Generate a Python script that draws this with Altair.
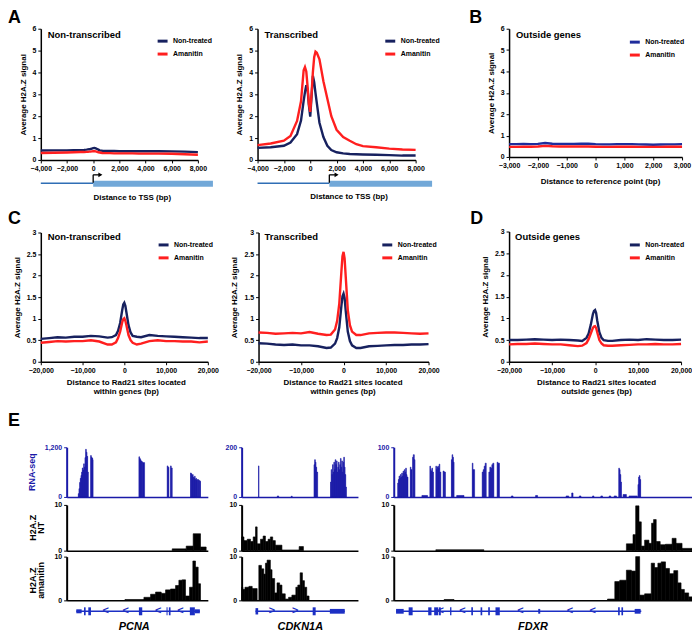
import altair as alt
import pandas as pd

W, H = 688, 626
FONT = "Liberation Sans"
NAVY = "#17215f"
NAVY_B = "#1f2c9c"
RED = "#ff1f1f"
TRACK_BLUE = "#1a1aa8"
GENE_BLUE = "#1c2fc4"
THIN_BLUE = "#2f6eb5"
THICK_BLUE = "#72a8d8"
CONDS = ["Non-treated", "Amanitin"]

# ---------------- Panel A (distance to TSS) ----------------
A_X = [-4000, -3000, -2000, -1500, -1000, -700, -500, -400, -300, -200, -100, 0, 100, 200,
       300, 400, 500, 700, 1000, 1300, 1600, 2000, 2500, 3000, 3500, 4000, 5000, 6000, 7000, 8000]
A_NONTX_NT = [0.43, 0.44, 0.44, 0.45, 0.45, 0.46, 0.47, 0.48, 0.49, 0.50, 0.52, 0.54, 0.55, 0.53,
              0.50, 0.47, 0.44, 0.42, 0.41, 0.41, 0.41, 0.40, 0.40, 0.40, 0.40, 0.40, 0.40, 0.39, 0.38, 0.36]
A_NONTX_AM = [0.32, 0.33, 0.34, 0.35, 0.36, 0.36, 0.37, 0.37, 0.38, 0.38, 0.39, 0.40, 0.40, 0.39,
              0.37, 0.35, 0.34, 0.32, 0.31, 0.31, 0.30, 0.30, 0.30, 0.30, 0.29, 0.29, 0.29, 0.28, 0.26, 0.24]
A_TX_NT = [0.55, 0.58, 0.65, 0.80, 1.18, 1.80, 2.70, 3.10, 3.42, 3.20, 2.50, 1.98, 2.90, 3.85,
           3.55, 3.05, 2.60, 1.70, 1.05, 0.65, 0.45, 0.35, 0.30, 0.27, 0.26, 0.25, 0.24, 0.22, 0.20, 0.20]
A_TX_AM = [0.68, 0.75, 0.88, 1.10, 1.78, 2.68, 4.10, 4.25, 4.05, 3.35, 2.55, 2.20, 3.00, 4.00,
           4.70, 4.95, 4.90, 4.60, 3.60, 2.80, 2.00, 1.38, 1.05, 0.88, 0.72, 0.63, 0.58, 0.52, 0.48, 0.46]
A_XTICKS = [-4000, -2000, 0, 2000, 4000, 6000, 8000]
A_YTICKS = [0, 1, 2, 3, 4, 5, 6]

# ---------------- Panel B (outside genes) ----------------
B_X = [-3000, -2750, -2500, -2250, -2000, -1750, -1500, -1250, -1000, -750, -500, -250, 0,
       250, 500, 750, 1000, 1250, 1500, 1750, 2000, 2250, 2500, 2750, 3000]
B_NT = [0.60, 0.60, 0.61, 0.60, 0.61, 0.65, 0.62, 0.61, 0.61, 0.61, 0.62, 0.62, 0.60,
        0.59, 0.59, 0.60, 0.60, 0.60, 0.59, 0.58, 0.57, 0.58, 0.59, 0.59, 0.60]
B_AM = [0.47, 0.47, 0.48, 0.48, 0.49, 0.52, 0.50, 0.49, 0.49, 0.49, 0.49, 0.49, 0.48,
        0.47, 0.47, 0.48, 0.48, 0.48, 0.47, 0.47, 0.47, 0.47, 0.48, 0.48, 0.48]
B_XTICKS = [-3000, -2000, -1000, 0, 1000, 2000, 3000]

# ---------------- Panels C / D (Rad21 sites) ----------------
C_X = [-20000, -18000, -16000, -14000, -12000, -10000, -8000, -6000, -4000, -3000, -2000, -1500,
       -1000, -500, -250, 0, 250, 500, 1000, 1500, 2000, 3000, 4000, 6000, 8000, 10000, 12000,
       14000, 16000, 18000, 20000]
C_NONTX_NT = [0.53, 0.55, 0.57, 0.56, 0.58, 0.58, 0.60, 0.59, 0.56, 0.57, 0.62, 0.72, 0.90, 1.20,
              1.33, 1.37, 1.30, 1.15, 0.85, 0.68, 0.60, 0.58, 0.57, 0.62, 0.60, 0.59, 0.58, 0.57,
              0.56, 0.55, 0.55]
C_NONTX_AM = [0.44, 0.46, 0.48, 0.47, 0.48, 0.48, 0.50, 0.47, 0.40, 0.40, 0.45, 0.55, 0.70, 0.92,
              0.99, 1.01, 0.95, 0.85, 0.62, 0.50, 0.44, 0.40, 0.42, 0.48, 0.50, 0.48, 0.48, 0.47,
              0.47, 0.45, 0.47]
C_TX_NT = [0.43, 0.42, 0.40, 0.39, 0.40, 0.38, 0.38, 0.36, 0.32, 0.33, 0.42, 0.55, 0.80, 1.30,
           1.52, 1.58, 1.48, 1.20, 0.70, 0.48, 0.38, 0.32, 0.32, 0.36, 0.37, 0.38, 0.39, 0.39,
           0.40, 0.40, 0.41]
C_TX_AM = [0.68, 0.67, 0.65, 0.66, 0.67, 0.66, 0.69, 0.65, 0.62, 0.63, 0.75, 0.95, 1.35, 2.10,
           2.45, 2.55, 2.40, 2.00, 1.20, 0.85, 0.70, 0.62, 0.62, 0.66, 0.67, 0.68, 0.68, 0.67,
           0.66, 0.65, 0.66]
D_NT = [0.50, 0.50, 0.51, 0.52, 0.51, 0.50, 0.51, 0.50, 0.49, 0.48, 0.55, 0.65, 0.85, 1.10,
        1.17, 1.19, 1.12, 0.95, 0.68, 0.55, 0.50, 0.48, 0.48, 0.50, 0.51, 0.50, 0.52, 0.51,
        0.50, 0.50, 0.51]
D_AM = [0.40, 0.41, 0.41, 0.42, 0.41, 0.40, 0.40, 0.38, 0.36, 0.37, 0.43, 0.52, 0.65, 0.78,
        0.81, 0.82, 0.78, 0.68, 0.50, 0.42, 0.38, 0.37, 0.37, 0.38, 0.39, 0.40, 0.40, 0.41,
        0.40, 0.40, 0.41]
C_XTICKS = [-20000, -10000, 0, 10000, 20000]
C_YTICKS = [0, 0.5, 1, 1.5, 2, 2.5, 3]

# ---------------- Panel E (genome tracks: start, end, value) ----------------
PCNA_RNA = [(35, 37, 80), (37, 39, 200), (39, 41, 350), (41, 43, 450), (43, 45, 520), (45, 47, 600),
            (47, 49, 700), (49, 51, 650), (51, 53, 800), (53, 55, 720), (55, 57, 950), (57, 59, 1150),
            (59, 61, 1080), (61, 63, 980), (63, 65, 600), (72, 74, 1000), (74, 76, 960), (76, 78, 940),
            (78, 79, 900), (217, 219, 970), (219, 221, 930), (221, 223, 900), (223, 225, 870),
            (225, 228, 850), (228, 234, 830), (302, 304, 750), (304, 307, 720), (312, 314, 750),
            (314, 317, 700), (372, 374, 580), (374, 376, 560), (376, 378, 520), (378, 380, 540),
            (380, 382, 480), (382, 384, 450), (384, 386, 500), (386, 388, 420), (388, 390, 450),
            (390, 392, 400), (392, 396, 420), (396, 400, 400), (400, 402, 380)]
PCNA_NT = [(317, 359, 0.4), (359, 380, 1.0), (380, 402, 3.7), (402, 419, 0.8)]
PCNA_AM = [(175, 232, 0.2), (232, 252, 0.7), (252, 267, 1.4), (267, 284, 1.9), (284, 297, 1.6),
           (297, 312, 2.4), (312, 327, 2.6), (327, 337, 3.4), (337, 347, 4.6), (347, 357, 4.7),
           (357, 369, 1.0), (369, 379, 3.0), (379, 387, 9.0), (387, 395, 7.6), (395, 402, 3.8)]
CDKN1A_RNA = [(51, 52.5, 125), (108, 112, 4), (150, 153, 3), (219, 221, 130), (221, 223, 150),
              (223, 225, 140), (225, 227, 120), (227, 230, 100), (269, 271, 60), (271, 273, 110),
              (273, 275, 90), (275, 277, 130), (277, 279, 100), (279, 281, 140), (281, 283, 110),
              (283, 285, 150), (285, 287, 130), (287, 289, 145), (289, 291, 100), (291, 293, 120),
              (293, 295, 140), (295, 297, 110), (297, 299, 130), (299, 301, 155), (301, 303, 120),
              (303, 305, 145), (305, 307, 100), (307, 309, 140), (309, 311, 160), (311, 313, 120),
              (313, 315, 90), (315, 317, 40)]
CDKN1A_NT = [(0, 7, 3.0), (7, 17, 2.2), (17, 27, 2.5), (27, 35, 2.0), (35, 42, 3.0), (42, 47, 5.2),
             (47, 57, 1.5), (57, 65, 2.5), (65, 72, 3.2), (72, 80, 2.0), (80, 87, 2.5), (87, 94, 3.0),
             (94, 102, 2.2), (102, 122, 1.2), (122, 174, 0.15), (174, 187, 0.9)]
CDKN1A_AM = [(0, 4, 3.0), (4, 10, 2.5), (10, 22, 3.0), (22, 32, 3.2), (32, 47, 2.7), (52, 60, 8.0),
             (60, 67, 7.2), (67, 72, 6.0), (72, 77, 8.5), (77, 87, 9.2), (87, 92, 7.0), (92, 100, 5.0),
             (100, 107, 1.7), (107, 115, 4.0), (115, 122, 3.5), (122, 132, 1.5), (132, 142, 0.3),
             (142, 152, 0.7), (152, 164, 1.2), (164, 170, 3.0), (170, 177, 3.5), (177, 184, 6.3),
             (184, 190, 4.5), (190, 197, 3.0), (197, 204, 1.0)]
FDXR_RNA = [(12, 14, 28), (14, 16, 35), (16, 18, 42), (18, 20, 38), (20, 22, 45), (22, 24, 40),
            (24, 26, 48), (26, 28, 42), (28, 30, 52), (30, 32, 47), (32, 34, 55), (34, 36, 50),
            (36, 38, 58), (38, 40, 45), (40, 43, 40), (50, 52, 60), (52, 55, 55), (57, 59, 80),
            (59, 62, 85), (62, 64, 75), (85, 102, 3), (109, 111, 62), (111, 113, 55), (113, 115, 52),
            (115, 117, 58), (117, 120, 50), (127, 129, 62), (129, 131, 55), (131, 133, 60),
            (133, 135, 62), (135, 137, 58), (137, 139, 66), (139, 142, 50), (149, 152, 52),
            (152, 156, 50), (174, 176, 75), (176, 178, 85), (178, 180, 80), (180, 182, 70),
            (190, 212, 3), (237, 239, 68), (239, 244, 55), (267, 270, 50), (270, 273, 55),
            (273, 276, 62), (276, 279, 68), (287, 290, 50), (290, 293, 60), (293, 296, 58),
            (296, 299, 65), (299, 302, 68), (312, 314, 70), (314, 319, 68), (355, 360, 2),
            (428, 434, 3), (520, 528, 2), (537, 541, 8), (560, 565, 2), (600, 604, 2), (625, 630, 2),
            (650, 655, 2), (665, 672, 2), (679, 681, 58), (681, 683, 55), (683, 685, 45),
            (685, 687, 30), (692, 702, 5), (710, 735, 2), (737, 739, 25), (739, 741, 40),
            (741, 743, 43), (743, 745, 35)]
FDXR_NT = [(127, 272, 0.2), (702, 722, 1.5), (722, 730, 3.5), (730, 740, 9.8), (740, 747, 6.3),
           (747, 757, 1.0), (757, 770, 2.3), (770, 778, 1.6), (778, 784, 6.0), (784, 792, 6.8),
           (792, 804, 2.0), (804, 820, 1.3), (820, 840, 1.4), (840, 852, 2.7), (852, 870, 1.6),
           (870, 900, 0.5)]
FDXR_AM = [(152, 182, 0.2), (645, 667, 0.3), (667, 682, 4.3), (682, 702, 4.6), (702, 717, 6.9),
           (717, 730, 6.7), (730, 742, 10.0), (742, 757, 1.2), (757, 777, 1.5), (777, 787, 8.5),
           (787, 797, 7.5), (797, 807, 8.5), (807, 820, 8.8), (820, 832, 7.3), (832, 845, 6.1),
           (845, 857, 6.8), (857, 867, 4.0), (867, 877, 2.5), (877, 890, 1.7), (890, 900, 0.8)]

# gene models: intron span, exons (start, end, half-height), chevrons
PCNA_SPAN = (29, 400)
PCNA_EXONS = [(29, 45, 0.5), (52, 57, 1.0), (65, 73, 1.0), (217, 227, 1.0), (300, 303, 1.0),
              (307, 312, 1.0), (370, 385, 1.0), (385, 400, 0.5)]
PCNA_CHEV = [117, 177, 275, 342]
CDKN1A_SPAN = (42, 312)
CDKN1A_EXONS = [(42, 50, 0.8), (215, 224, 1.0), (267, 312, 0.6)]
CDKN1A_CHEV = [92, 162]
FDXR_SPAN = (7, 747)
FDXR_EXONS = [(7, 30, 0.6), (45, 57, 1.0), (104, 114, 1.0), (122, 134, 1.0), (136, 142, 1.0),
              (170, 174, 1.0), (234, 239, 1.0), (262, 267, 1.0), (285, 290, 1.0), (307, 320, 1.0),
              (436, 442, 0.6), (677, 682, 1.0), (687, 692, 1.0), (727, 745, 0.6)]
FDXR_CHEV = [142, 207, 382, 532, 600]

layers = []


def line_panel(xs, nt, am, xdom, xticks, ydom, yticks, xr, yr, leg, blue):
    df = pd.DataFrame({"x": list(xs) * 2, "y": list(nt) + list(am),
                       "Condition": [CONDS[0]] * len(xs) + [CONDS[1]] * len(xs)})
    return alt.Chart(df).mark_line(strokeWidth=2.4).encode(
        x=alt.X("x:Q", scale=alt.Scale(domain=xdom, range=xr, nice=False, zero=False),
                axis=alt.Axis(orient="bottom", offset=yr[0] - H, values=xticks, format=",d",
                              title=None, labelFlush=False, labelOverlap=False)),
        y=alt.Y("y:Q", scale=alt.Scale(domain=ydom, range=yr, nice=False, zero=False),
                axis=alt.Axis(orient="left", offset=-xr[0], values=yticks, format="~g",
                              title="Average H2A.Z signal", titlePadding=5,
                              labelFlush=False, labelOverlap=False)),
        color=alt.Color("Condition:N", scale=alt.Scale(domain=CONDS, range=[blue, RED]),
                        legend=alt.Legend(orient="none", legendX=leg[0], legendY=leg[1], title=None)),
    )


def txt(s, x, y, size=8, color="black", align="center", angle=0, style="normal", weight="bold"):
    return alt.Chart(pd.DataFrame({"t": [s]})).mark_text(
        font=FONT, fontSize=size, fontWeight=weight, fontStyle=style, color=color,
        align=align, baseline="middle", angle=angle).encode(
        x=alt.value(x), y=alt.value(y), text="t:N")


def tss_diagram(thin_end, thick_end, tss, xdom, xr):
    xs = alt.Scale(domain=xdom, range=xr, nice=False, zero=False)
    thin = pd.DataFrame({"s": [xdom[0]], "e": [thin_end]})
    thick = pd.DataFrame({"s": [thin_end], "e": [thick_end]})
    out = [
        alt.Chart(thin).mark_rule(color=THIN_BLUE, strokeWidth=1.5).encode(
            x=alt.X("s:Q", scale=xs, axis=None), x2="e:Q", y=alt.value(174.5)),
        alt.Chart(thick).mark_bar(color=THICK_BLUE).encode(
            x=alt.X("s:Q", scale=xs, axis=None), x2="e:Q", y=alt.value(172), y2=alt.value(178)),
    ]
    arr = pd.DataFrame({"s": [tss], "e": [tss + 550]})
    out.append(alt.Chart(arr).mark_rule(color="black", strokeWidth=1.3).encode(
        x=alt.X("s:Q", scale=xs, axis=None), y=alt.value(174), y2=alt.value(166)))
    out.append(alt.Chart(arr).mark_rule(color="black", strokeWidth=1.3).encode(
        x=alt.X("s:Q", scale=xs, axis=None), x2="e:Q", y=alt.value(166)))
    out.append(alt.Chart(arr).mark_point(shape="triangle-right", filled=True, color="black",
                                         size=22, opacity=1).encode(
        x=alt.X("e:Q", scale=xs, axis=None), y=alt.value(166)))
    return out


def track(segs, xdom, xr, ymax, yr, color, lab_color):
    df = pd.DataFrame(segs, columns=["start", "end", "value"])
    df["base"] = 0
    return alt.Chart(df).mark_bar(color=color, stroke=color, strokeWidth=0.6).encode(
        x=alt.X("start:Q", scale=alt.Scale(domain=xdom, range=xr, nice=False, zero=False),
                axis=alt.Axis(orient="bottom", offset=yr[0] - H, ticks=False, labels=False,
                              title=None, domainColor=color, domainWidth=1.5)),
        x2="end:Q",
        y=alt.Y("value:Q", scale=alt.Scale(domain=[0, ymax], range=yr, nice=False),
                axis=alt.Axis(orient="left", offset=-xr[0], values=[0, ymax], format=",d",
                              title=None, domainColor=color, tickColor=color,
                              labelColor=lab_color, domainWidth=2, labelFlush=False,
                              labelOverlap=False)),
        y2="base:Q",
    )


def gene_model(span, exons, chev, char, xdom, xr):
    xs = alt.Scale(domain=xdom, range=xr, nice=False, zero=False)
    sp = pd.DataFrame({"s": [span[0]], "e": [span[1]]})
    ex = pd.DataFrame(exons, columns=["s", "e", "h"])
    ex["lo"] = -ex["h"]
    ch = pd.DataFrame({"p": chev})
    return [
        alt.Chart(sp).mark_rule(color=GENE_BLUE, strokeWidth=1.5).encode(
            x=alt.X("s:Q", scale=xs, axis=None), x2="e:Q", y=alt.value(605)),
        alt.Chart(ex).mark_bar(color=GENE_BLUE).encode(
            x=alt.X("s:Q", scale=xs, axis=None), x2="e:Q",
            y=alt.Y("h:Q", scale=alt.Scale(domain=[-1, 1], range=[609, 601]), axis=None),
            y2="lo:Q"),
        alt.Chart(ch).mark_text(text=char, color=GENE_BLUE, font=FONT, fontSize=11,
                                fontWeight="bold", baseline="middle", align="center").encode(
            x=alt.X("p:Q", scale=xs, axis=None), y=alt.value(604.5)),
    ]


# ---- line panels ----
layers.append(line_panel(A_X, A_NONTX_NT, A_NONTX_AM, [-4000, 8000], A_XTICKS, [0, 6], A_YTICKS,
                         [33, 191], [151, 19], (149, 25), NAVY))
layers.append(line_panel(A_X, A_TX_NT, A_TX_AM, [-4000, 8000], A_XTICKS, [0, 6], A_YTICKS,
                         [251, 410], [151, 19], (378, 25), NAVY))
layers.append(line_panel(B_X, B_NT, B_AM, [-3000, 3000], B_XTICKS, [0, 6], A_YTICKS,
                         [504, 678], [148, 19], (624, 26), NAVY_B))
layers.append(line_panel(C_X, C_NONTX_NT, C_NONTX_AM, [-20000, 20000], C_XTICKS, [0, 3], C_YTICKS,
                         [33, 201], [354, 224], (150, 230), NAVY))
layers.append(line_panel(C_X, C_TX_NT, C_TX_AM, [-20000, 20000], C_XTICKS, [0, 3], C_YTICKS,
                         [252, 423], [354, 224], (375, 230), NAVY))
layers.append(line_panel(C_X, D_NT, D_AM, [-20000, 20000], C_XTICKS, [0, 3], C_YTICKS,
                         [504, 677], [354, 223], (624, 230), NAVY))

layers += tss_diagram(0, 9150, 0, [-4000, 8000], [33, 191])
layers += tss_diagram(1450, 9250, 1450, [-4000, 8000], [251, 410])

# ---- genome tracks ----
GENES = [
    (PCNA_RNA, PCNA_NT, PCNA_AM, [0, 424], [59, 201], 1200, PCNA_SPAN, PCNA_EXONS, PCNA_CHEV, "<"),
    (CDKN1A_RNA, CDKN1A_NT, CDKN1A_AM, [0, 352], [235, 352], 200, CDKN1A_SPAN, CDKN1A_EXONS,
     CDKN1A_CHEV, ">"),
    (FDXR_RNA, FDXR_NT, FDXR_AM, [0, 900], [388, 688], 100, FDXR_SPAN, FDXR_EXONS, FDXR_CHEV, "<"),
]
for rna, nt, am, xdom, xr, rmax, span, exons, chev, char in GENES:
    layers.append(track(rna, xdom, xr, rmax, [490, 440], TRACK_BLUE, TRACK_BLUE))
    layers.append(track(nt, xdom, xr, 10, [544, 498], "black", "black"))
    layers.append(track(am, xdom, xr, 10, [594, 550], "black", "black"))
    layers += gene_model(span, exons, chev, char, xdom, xr)

# ---- text ----
for s, x, y in [("A", 0, 8), ("B", 464, 8), ("C", 0, 210), ("D", 465, 210), ("E", 0, 414)]:
    layers.append(txt(s, x, y, size=18, align="left"))
for s, x, y in [("Non-transcribed", 40, 25), ("Transcribed", 258, 25), ("Outside genes", 511, 25),
                ("Non-transcribed", 40, 229), ("Transcribed", 258, 229), ("Outside genes", 510, 229)]:
    layers.append(txt(s, x, y, size=9.5, align="left"))
for s, x, y in [("Distance to TSS (bp)", 125, 189), ("Distance to TSS (bp)", 343, 188),
                ("Distance to reference point (bp)", 596, 173),
                ("Distance to Rad21 sites located", 119, 375), ("within genes (bp)", 119, 384),
                ("Distance to Rad21 sites located", 337, 375), ("within genes (bp)", 337, 384),
                ("Distance to Rad21 sites located", 592, 375), ("outside genes (bp)", 592, 384)]:
    layers.append(txt(s, x, y, size=8))
for s, x in [("PCNA", 127), ("CDKN1A", 294), ("FDXR", 528)]:
    layers.append(txt(s, x, 621, size=11, style="italic"))
layers.append(txt("RNA-seq", 24, 465, size=9, color=TRACK_BLUE, angle=270))
layers.append(txt("H2A.Z", 25, 521, size=9, angle=270))
layers.append(txt("NT", 33, 521, size=9, angle=270))
layers.append(txt("H2A.Z", 25, 574, size=9, angle=270))
layers.append(txt("amanitin", 33, 574, size=9, angle=270))

chart = alt.layer(*layers).properties(
    width=W, height=H, autosize=alt.AutoSizeParams(type="none"), padding=0
).resolve_scale(
    x="independent", y="independent", color="independent"
).configure_view(stroke=None).configure_axis(
    grid=False, labelFont=FONT, labelFontWeight="bold", labelFontSize=7, labelColor="black",
    titleFont=FONT, titleFontWeight="bold", titleFontSize=8, titleColor="black",
    domainColor="black", tickColor="black", domainWidth=1.5, tickWidth=1, tickSize=3,
    labelPadding=2
).configure_legend(
    labelFont=FONT, labelFontWeight="bold", labelFontSize=7, labelColor="black",
    symbolType="stroke", symbolStrokeWidth=3, symbolSize=100, rowPadding=0, padding=0
)

chart.save("out.html", embed_options={"renderer": "svg", "actions": False})
